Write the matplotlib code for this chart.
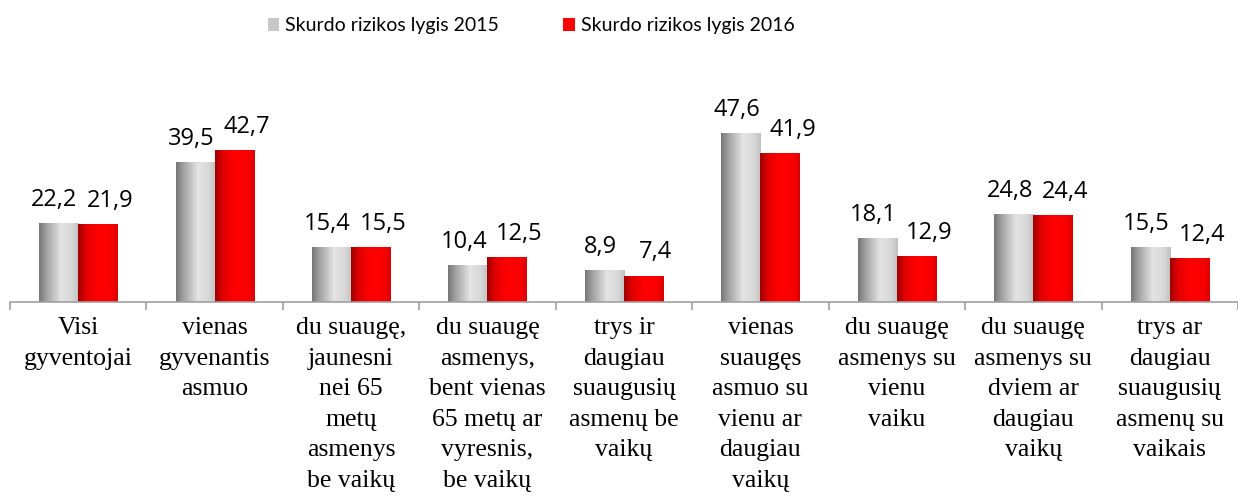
import matplotlib.pyplot as plt
import numpy as np
from matplotlib.colors import LinearSegmentedColormap
from matplotlib.patches import Rectangle

categories = ['Visi\ngyventojai',
              'vienas\ngyvenantis\nasmuo',
              'du suaugę,\njaunesni\nnei 65\nmetų\nasmenys\nbe vaikų',
              'du suaugę\nasmenys,\nbent vienas\n65 metų ar\nvyresnis,\nbe vaikų',
              'trys ir\ndaugiau\nsuaugusių\nasmenų be\nvaikų',
              'vienas\nsuaugęs\nasmuo su\nvienu ar\ndaugiau\nvaikų',
              'du suaugę\nasmenys su\nvienu\nvaiku',
              'du suaugę\nasmenys su\ndviem ar\ndaugiau\nvaikų',
              'trys ar\ndaugiau\nsuaugusių\nasmenų su\nvaikais']
y2015 = [22.2, 39.5, 15.4, 10.4, 8.9, 47.6, 18.1, 24.8, 15.5]
y2016 = [21.9, 42.7, 15.5, 12.5, 7.4, 41.9, 12.9, 24.4, 12.4]
series = ['Skurdo rizikos lygis 2015', 'Skurdo rizikos lygis 2016']

# cylinder-like shading
gray_cmap = LinearSegmentedColormap.from_list(
    'g', [(0, '#777777'), (0.2, '#a4a4a4'), (0.55, '#e4e4e4'), (0.85, '#d6d6d6'), (1, '#c0c0c0')])
red_cmap = LinearSegmentedColormap.from_list(
    'r', [(0, '#a00000'), (0.2, '#e20000'), (0.5, '#ff0000'), (0.85, '#f80000'), (1, '#dc0000')])

fig = plt.figure(figsize=(12.38, 4.98), dpi=100)
ax = fig.add_axes([0.008, 0.394, 0.992, 0.427])

x = np.arange(len(categories))
w = 0.286
grad = np.linspace(0, 1, 100).reshape(1, -1)

def cyl_bar(xc, h, cmap):
    x0 = xc - w / 2
    im = ax.imshow(grad, cmap=cmap, aspect='auto', extent=[x0, x0 + w, 0, h],
                   interpolation='bilinear', zorder=2)
    r = Rectangle((x0, 0), w, h, transform=ax.transData, facecolor='none', edgecolor='none')
    ax.add_patch(r)
    im.set_clip_path(r)

for i in range(len(categories)):
    cyl_bar(x[i] - w / 2, y2015[i], gray_cmap)
    cyl_bar(x[i] + w / 2, y2016[i], red_cmap)
    for xc, v, dx in [(x[i] - w / 2, y2015[i], -3), (x[i] + w / 2, y2016[i], 9)]:
        ax.annotate(f'{v:.1f}'.replace('.', ','), (xc, v), xytext=(dx, 8),
                    textcoords='offset points', ha='center', va='bottom',
                    fontsize=17, family='Open Sans')

ax.set_xlim(-0.5, len(categories) - 0.5)
ax.set_ylim(0, 60)
for s in ['top', 'right', 'left']:
    ax.spines[s].set_visible(False)
ax.spines['bottom'].set_color('#a0a0a0')
ax.spines['bottom'].set_linewidth(1.2)
ax.set_yticks([])
ax.set_xticks(np.arange(len(categories) + 1) - 0.5, minor=False)
ax.set_xticklabels([])
ax.tick_params(axis='x', length=6, color='#a0a0a0', width=1.2)
ax.set_xticks(x, minor=True)
ax.set_xticklabels(categories, minor=True, fontsize=18.5, family='Liberation Serif',
                   linespacing=1.5, va='top')
ax.tick_params(axis='x', which='minor', length=0, pad=11)

# legend
h1 = Rectangle((0, 0), 1, 1, facecolor='#c8c8c8')
h2 = Rectangle((0, 0), 1, 1, facecolor='#ff0000')
fig.legend([h1, h2], series, loc='upper center', bbox_to_anchor=(0.429, 1.0), ncol=2,
           frameon=False, prop={'family': 'Lato', 'size': 14},
           handlelength=0.6, handleheight=0.6, handletextpad=0.3, columnspacing=3.3)

fig.savefig('out.png', dpi=100)
